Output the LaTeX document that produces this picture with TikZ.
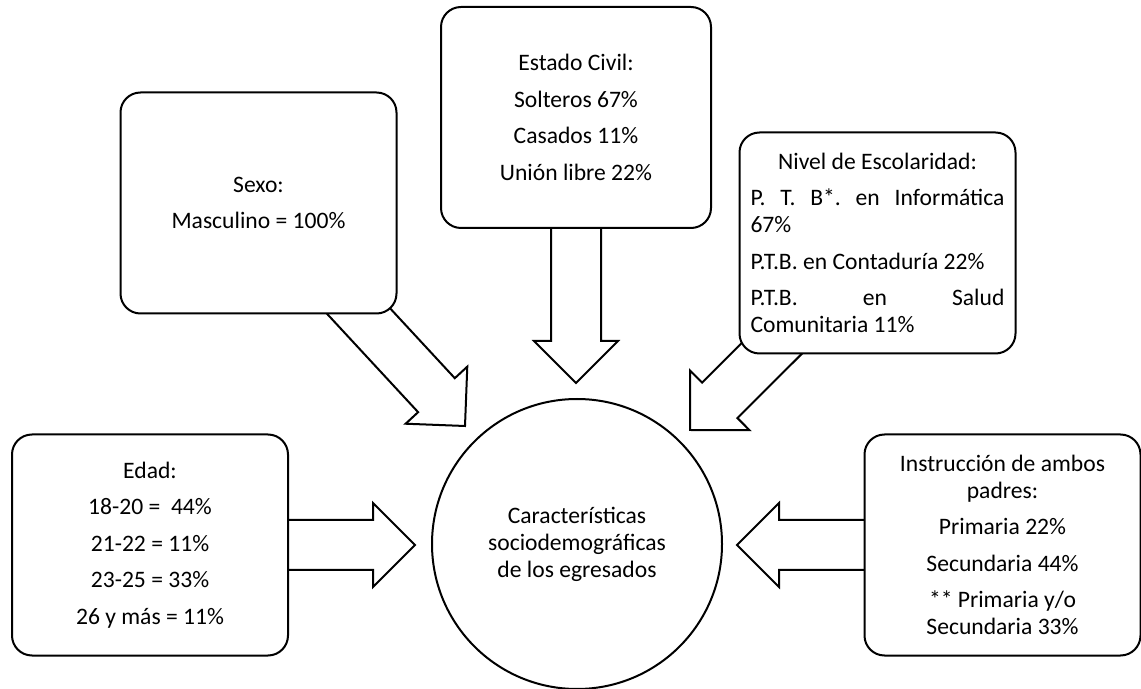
\documentclass[tikz,border=0pt]{standalone}
\usepackage{fontspec}
\setmainfont{Carlito}
\usetikzlibrary{calc,backgrounds}
\tikzset{
    infobox/.style={shape=rectangle,draw=black,line width=1pt,rounded corners=10pt,fill=white,
        minimum width=138pt,minimum height=110.5pt,align=center,inner sep=2pt},
    arrowbody/.style={draw=black,line width=1pt,fill=white,line join=miter},
}
\newcommand{\blockarrow}[2]{%
    \coordinate (ba) at ($(#2)!21pt!(#1)$);
    \draw[arrowbody] ($(#1)!12.5pt!90:(#2)$) -- ($(ba)!12.5pt!-90:(#1)$) -- ($(ba)!21pt!-90:(#1)$) -- (#2)
        -- ($(ba)!21pt!90:(#1)$) -- ($(ba)!12.5pt!90:(#1)$) -- ($(#1)!12.5pt!-90:(#2)$) -- cycle;
}
\newcommand{\pgap}{\\[4.8pt]}
\begin{document}
\begin{tikzpicture}[x=0.5pt,y=-0.5pt,font=\fontsize{11.8}{13.5}\selectfont]
    \useasboundingbox (0,0) rectangle (1141,689);
    \node[infobox] (sexo) at (258.5,203) {Sexo:\pgap Masculino = 100\%};
    \node[infobox,minimum width=135pt] (civil) at (576,117.5) {Estado Civil:\pgap Solteros 67\%\pgap Casados 11\%\pgap Unión libre 22\%};
    \node[infobox,text width=127pt,align=flush left] (escolar) at (877.5,243) {\hfill Nivel de Escolaridad:\hfill\mbox{}\pgap
        P.\hfill T.\hfill B*.\hfill en\hfill Informática\\67\%\pgap
        P.T.B. en Contaduría 22\%\pgap
        P.T.B.\hfill en\hfill Salud\\Comunitaria 11\%};
    \node[infobox] (edad) at (150,545) {Edad:\pgap 18-20 = \ 44\%\pgap 21-22 = 11\%\pgap 23-25 = 33\%\pgap 26 y más = 11\%};
    \node[infobox] (padres) at (1002.5,545) {Instrucción de ambos\\padres:\pgap Primaria 22\%\pgap Secundaria 44\%\pgap ** Primaria y/o\\Secundaria 33\%};
    \node[shape=circle,draw=black,line width=1pt,minimum size=145pt,align=center] (centro) at (577,544) {Características\\sociodemográficas\\de los egresados};
    \coordinate (tsexo) at (465,426);
    \coordinate (tcivil) at (576,383);
    \coordinate (tescolar) at (690,430);
    \coordinate (tedad) at (415,545);
    \coordinate (tpadres) at (737,545);
    \begin{scope}[on background layer]
        \blockarrow{sexo.center}{tsexo}
        \blockarrow{civil.center}{tcivil}
        \blockarrow{escolar.center}{tescolar}
        \blockarrow{edad.center}{tedad}
        \blockarrow{padres.center}{tpadres}
    \end{scope}
\end{tikzpicture}
\end{document}
